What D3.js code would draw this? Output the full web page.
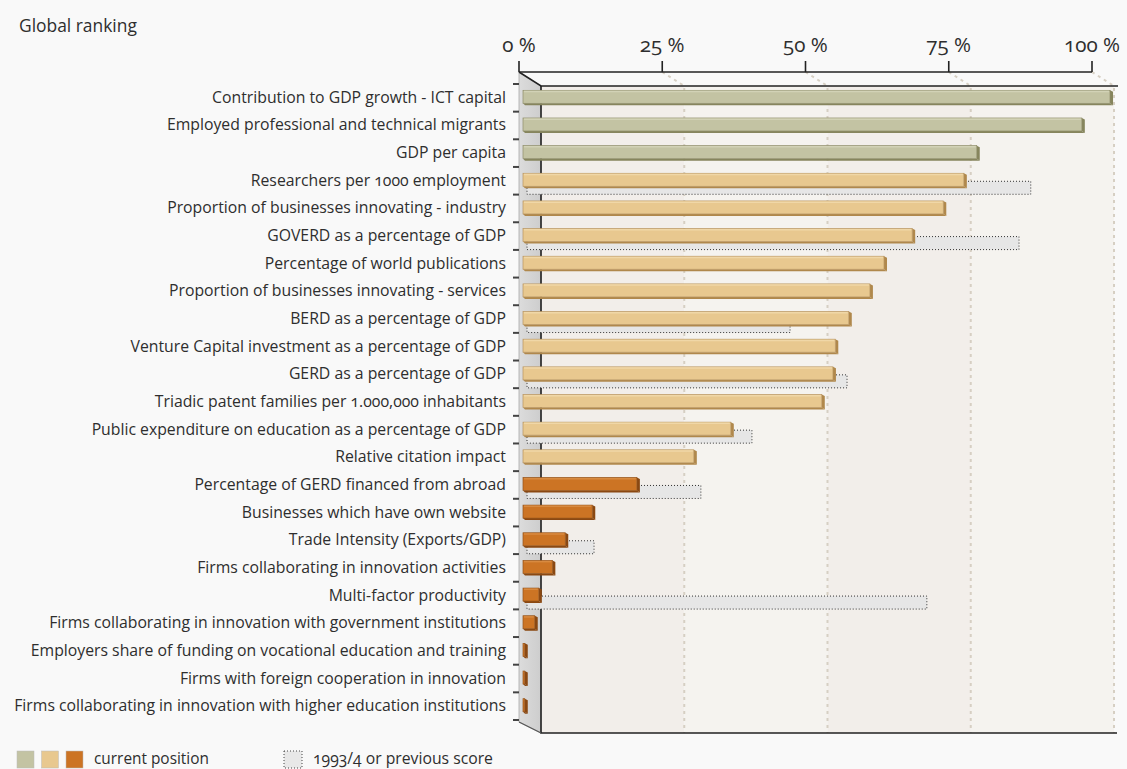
<!DOCTYPE html>
<html>
<head>
<meta charset="utf-8">
<script src="https://cdn.jsdelivr.net/npm/d3@7"></script>
<style>
  html, body { margin: 0; padding: 0; background: #f9f9f9; }
  svg { display: block; }
  text { font-family: "Open Sans", "Noto Sans", sans-serif; fill: #2e2e2e; }
</style>
</head>
<body>
<svg id="chart" width="1127" height="769"></svg>
<script>
const categories = [
  "Contribution to GDP growth - ICT capital",
  "Employed professional and technical migrants",
  "GDP per capita",
  "Researchers per 1000 employment",
  "Proportion of businesses innovating - industry",
  "GOVERD as a percentage of GDP",
  "Percentage of world publications",
  "Proportion of businesses innovating - services",
  "BERD as a percentage of GDP",
  "Venture Capital investment as a percentage of GDP",
  "GERD as a percentage of GDP",
  "Triadic patent families per 1.000,000 inhabitants",
  "Public expenditure on education as a percentage of GDP",
  "Relative citation impact",
  "Percentage of GERD financed from abroad",
  "Businesses which have own website",
  "Trade Intensity (Exports/GDP)",
  "Firms collaborating in innovation activities",
  "Multi-factor productivity",
  "Firms collaborating in innovation with government institutions",
  "Employers share of funding on vocational education and training",
  "Firms with foreign cooperation in innovation",
  "Firms collaborating in innovation with higher education institutions"
];
const currentScore = [100, 95.2, 77.3, 75.1, 71.6, 66.3, 61.5, 59.1, 55.5, 53.2, 52.8, 50.9, 35.4, 29.1, 19.4, 11.8, 7.2, 5.0, 2.7, 2.0, 0.3, 0.3, 0.3];
const previousScore = [null, null, null, 86.5, null, 84.5, null, null, 45.5, null, 55.2, null, 39.0, null, 30.3, null, 12.1, null, 68.8, null, null, null, null];
const colourGroup = ["high","high","high","mid","mid","mid","mid","mid","mid","mid","mid","mid","mid","mid","low","low","low","low","low","low","low","low","low"];
const tickValues = [0, 25, 50, 75, 100];
const tickLabels = ["0 %", "25 %", "50 %", "75 %", "100 %"];
const legendLabels = ["current position", "1993/4 or previous score"];

const palette = {
  high: { front: "#c3c3a3", top: "#d2d2b6", side: "#86855d", edge: "#8f8e6a" },
  mid:  { front: "#e8c88f", top: "#f0d7a7", side: "#b0884c", edge: "#b89560" },
  low:  { front: "#cc7424", top: "#d88a40", side: "#8a4812", edge: "#94541c" }
};

const svg = d3.select("#chart");
svg.append("rect").attr("width", 1127).attr("height", 769).attr("fill", "#f9f9f9");

// shrink/grow a text node's font size so it spans a given width
function fitWidth(sel, target) {
  sel.each(function() {
    const node = this;
    const fs = parseFloat(getComputedStyle(node).fontSize);
    const w = node.getComputedTextLength();
    if (w > 0) d3.select(node).style("font-size", (fs * target / w).toFixed(2) + "px");
  });
}

// geometry
const depthX = 22, depthY = 14;
const frontTop = 72, frontBottom = 722;
const x = d3.scaleLinear().domain([0, 100]).range([519, 1092]);
const xBar = d3.scaleLinear().domain([0, 100]).range([523, 1110]);
const y = d3.scaleBand().domain(categories).range([84, 720]).padding(0);
const backTop = frontTop + depthY, backBottom = frontBottom + 11;

// title
const title = svg.append("text").attr("x", 19).attr("y", 32).style("font-size", "16px").text("Global ranking");
fitWidth(title, 118);

// back wall with alternating bands
const bands = d3.pairs(tickValues);
svg.selectAll("rect.band").data(bands).join("rect")
  .attr("class", "band")
  .attr("x", d => x(d[0]) + depthX)
  .attr("y", backTop)
  .attr("width", d => x(d[1]) - x(d[0]))
  .attr("height", backBottom - backTop)
  .attr("fill", (d, i) => i % 2 === 0 ? "#f2eeea" : "#f5f3ef");

// dashed gridlines (diagonal + vertical)
const grid = svg.append("g").attr("stroke", "#d6cfc3").attr("stroke-width", 2).attr("stroke-dasharray", "3,4").attr("fill", "none");
tickValues.slice(1).forEach(v => {
  grid.append("path").attr("d", `M${x(v)},${frontTop}L${x(v) + depthX},${backTop}L${x(v) + depthX},${backBottom}`);
});

// side wall
const defs = svg.append("defs");
const sg = defs.append("linearGradient").attr("id", "sideGrad").attr("x1", 0).attr("x2", 1).attr("y1", 0).attr("y2", 0);
sg.append("stop").attr("offset", 0).attr("stop-color", "#dcdcdc");
sg.append("stop").attr("offset", 1).attr("stop-color", "#cdcdcd");
svg.append("path")
  .attr("d", `M${x(0)},${frontTop}L${x(0) + depthX},${backTop}L${x(0) + depthX},${backBottom}L${x(0)},${frontBottom}Z`)
  .attr("fill", "url(#sideGrad)").attr("stroke", "#a8a8a8").attr("stroke-width", 0.8);

// frame lines
const frame = svg.append("g").attr("stroke", "#222").attr("fill", "none");
frame.append("path").attr("stroke-width", 1.6).attr("d", `M${x(0)},${frontTop}L${x(100)},${frontTop}`);
frame.append("path").attr("stroke-width", 1.6).attr("d", `M${x(0)},${frontTop}L${x(0) + depthX},${backTop}L${x(100) + depthX + 4},${backTop}`);
frame.append("path").attr("stroke-width", 1.6).attr("d", `M${x(0) + depthX},${backTop}L${x(0) + depthX},${backBottom}L${x(100) + depthX + 3},${backBottom}`);
frame.append("path").attr("stroke-width", 1.2).attr("stroke", "#555").attr("d", `M${x(0)},${frontBottom}L${x(0) + depthX},${backBottom}`);

// top axis ticks and labels
svg.selectAll("line.xtick").data(tickValues).join("line")
  .attr("class", "xtick")
  .attr("x1", d => x(d)).attr("x2", d => x(d))
  .attr("y1", frontTop - 11).attr("y2", frontTop)
  .attr("stroke", "#222").attr("stroke-width", 1.6);
const xLabels = svg.selectAll("text.xlabel").data(tickValues).join("text")
  .attr("class", "xlabel")
  .attr("x", d => x(d)).attr("y", 52)
  .attr("text-anchor", "middle")
  .style("font-size", "18px")
  .style("font-feature-settings", "'onum'")
  .text((d, i) => tickLabels[i]);
{
  const widest = xLabels.filter((d, i) => i === tickValues.length - 1).node();
  const fs = 18 * 56 / widest.getComputedTextLength();
  xLabels.style("font-size", fs.toFixed(2) + "px");
}

// left ticks at row boundaries
const boundaries = categories.map(c => y(c)).concat([y.range()[1]]);
svg.selectAll("line.ytick").data(boundaries).join("line")
  .attr("class", "ytick")
  .attr("x1", x(0) - 6).attr("x2", x(0))
  .attr("y1", d => d).attr("y2", d => d)
  .attr("stroke", "#444").attr("stroke-width", 2);

// category labels
const yLabels = svg.selectAll("text.ylabel").data(categories).join("text")
  .attr("class", "ylabel")
  .attr("x", 506)
  .attr("y", d => y(d) + y.bandwidth() / 2 + 5)
  .attr("text-anchor", "end")
  .style("font-size", "15px")
  .style("font-feature-settings", "'onum'")
  .text(d => d);
{
  let maxW = 0;
  yLabels.each(function() { maxW = Math.max(maxW, this.getComputedTextLength()); });
  yLabels.style("font-size", (15 * 492 / maxW).toFixed(2) + "px");
}

const barH = 13;
const centre = i => y(categories[i]) + y.bandwidth() / 2;

// previous scores (dotted bars behind)
const prev = categories.map((c, i) => ({ i, v: previousScore[i] })).filter(d => d.v !== null);
svg.selectAll("rect.prev").data(prev).join("rect")
  .attr("class", "prev")
  .attr("x", xBar(0) + 4)
  .attr("y", d => centre(d.i) - barH / 2 + 7)
  .attr("width", d => xBar(d.v) - xBar(0) - 4)
  .attr("height", barH)
  .attr("fill", "#e6e6e6")
  .attr("stroke", "#333")
  .attr("stroke-width", 1)
  .attr("stroke-dasharray", "1,2");

// current bars with pseudo-3D faces
const bars = svg.selectAll("g.bar").data(categories.map((c, i) => ({ i, v: currentScore[i], g: colourGroup[i] }))).join("g").attr("class", "bar");
bars.each(function(d) {
  const g = d3.select(this);
  const c = palette[d.g];
  const x0 = xBar(0), x1 = Math.max(xBar(d.v), x0 + 1);
  const top = centre(d.i) - barH / 2 - 1, bot = top + barH;
  g.append("path").attr("d", `M${x0},${bot}L${x1},${bot}L${x1 + 3},${bot + 2}L${x0 + 2},${bot + 2}Z`).attr("fill", c.side);
  g.append("path").attr("d", `M${x1},${top}L${x1 + 3},${top + 1.5}L${x1 + 3},${bot + 2}L${x1},${bot}Z`).attr("fill", c.side);
  g.append("rect").attr("x", x0).attr("y", top).attr("width", x1 - x0).attr("height", barH)
    .attr("fill", c.front).attr("stroke", c.edge).attr("stroke-width", 0.7);
  g.append("line").attr("x1", x0 + 1).attr("x2", x1 - 1).attr("y1", top + 1.2).attr("y2", top + 1.2)
    .attr("stroke", c.top).attr("stroke-width", 1.5);
});

// legend
const legendColours = [palette.high.front, palette.mid.front, palette.low.front];
svg.selectAll("rect.leg").data(legendColours).join("rect")
  .attr("class", "leg")
  .attr("x", (d, i) => 17 + i * 24.5).attr("y", 751)
  .attr("width", 17).attr("height", 17)
  .attr("fill", d => d).attr("stroke", "#bbb").attr("stroke-width", 0.5);
const leg1 = svg.append("text").attr("x", 94).attr("y", 764).style("font-size", "15px").text(legendLabels[0]);
fitWidth(leg1, 115);
svg.append("rect").attr("x", 284).attr("y", 751).attr("width", 18).attr("height", 17)
  .attr("fill", "#e8e8e8").attr("stroke", "#444").attr("stroke-width", 1).attr("stroke-dasharray", "1,2");
const leg2 = svg.append("text").attr("x", 313).attr("y", 764).style("font-size", "15px")
  .style("font-feature-settings", "'onum'").text(legendLabels[1]);
fitWidth(leg2, 180);
</script>
</body>
</html>
